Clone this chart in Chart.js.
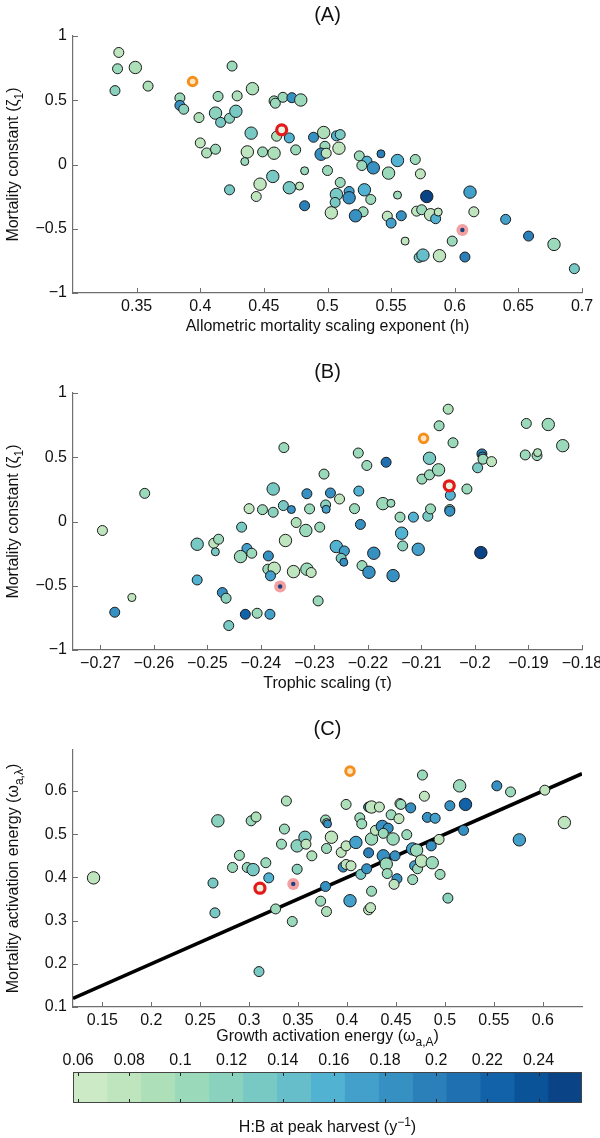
<!DOCTYPE html>
<html lang="en">
<head>
<meta charset="UTF-8">
<title>Mortality parameters</title>
<script src="https://cdn.jsdelivr.net/npm/chart.js"></script>
<style>
  body { margin: 0; background: #fff; }
  #wrap { width: 600px; height: 1138px; }
  canvas { display: block; }
</style>
</head>
<body>
<div id="wrap">
  <canvas id="chartA" width="600" height="345"></canvas>
  <canvas id="chartB" width="600" height="360"></canvas>
  <canvas id="chartC" width="600" height="345"></canvas>
  <canvas id="chartBar" width="600" height="88"></canvas>
</div>
<script>
// ---- panel A: allometric mortality exponent vs mortality constant
const aX = [0.336,0.335,0.349,0.333,0.359,0.384,0.384,0.387,0.399,0.414,
  0.425,0.429,0.441,0.412,0.416,0.423,0.428,0.458,0.459,0.465,
  0.472,0.479,0.44,0.46,0.47,0.489,0.497,0.507,0.51,0.4,
  0.405,0.412,0.437,0.435,0.449,0.458,0.475,0.498,0.495,0.499,
  0.509,0.525,0.531,0.527,0.536,0.542,0.555,0.548,0.569,0.573,
  0.482,0.5,0.457,0.447,0.423,0.444,0.47,0.478,0.51,0.482,
  0.503,0.507,0.506,0.517,0.517,0.529,0.534,0.528,0.522,0.547,
  0.555,0.558,0.55,0.561,0.578,0.57,0.574,0.581,0.585,0.587,
  0.572,0.575,0.588,0.598,0.608,0.612,0.615,0.64,0.658,0.678,
  0.694];
const aY = [0.872,0.745,0.755,0.575,0.61,0.518,0.46,0.43,0.365,0.53,
  0.766,0.534,0.59,0.40,0.328,0.36,0.414,0.495,0.477,0.523,
  0.52,0.502,0.244,0.22,0.207,0.212,0.249,0.223,0.233,0.168,
  0.09,0.119,0.098,0.023,0.098,0.088,0.114,0.142,0.08,0.088,
  0.127,0.067,0.026,-0.008,-0.026,0.083,0.031,-0.067,0.039,-0.073,
  -0.049,-0.047,-0.093,-0.153,-0.197,-0.249,-0.181,-0.168,-0.14,-0.321,
  -0.376,-0.233,-0.295,-0.21,-0.259,-0.197,-0.272,-0.368,-0.399,-0.402,
  -0.238,-0.399,-0.456,-0.596,-0.249,-0.363,-0.352,-0.391,-0.422,-0.37,
  -0.723,-0.705,-0.71,-0.596,-0.72,-0.215,-0.368,-0.427,-0.557,-0.622,
  -0.811];
const aHB = [0.075,0.11,0.085,0.115,0.085,0.1,0.19,0.115,0.085,0.1,
  0.1,0.085,0.085,0.12,0.13,0.12,0.13,0.1,0.1,0.1,
  0.185,0.1,0.13,0.09,0.155,0.185,0.085,0.16,0.13,0.08,
  0.085,0.1,0.08,0.11,0.105,0.085,0.1,0.1,0.19,0.08,
  0.08,0.1,0.16,0.1,0.19,0.2,0.16,0.1,0.1,0.08,
  0.1,0.1,0.13,0.075,0.13,0.075,0.13,0.08,0.1,0.2,
  0.075,0.13,0.13,0.165,0.19,0.16,0.1,0.1,0.19,0.08,
  0.1,0.19,0.165,0.075,0.25,0.08,0.1,0.08,0.16,0.075,
  0.13,0.14,0.08,0.11,0.2,0.165,0.08,0.165,0.2,0.1,
  0.13];
const aSize = [2,2,3,2,2,2,2,2,2,2,
  2,2,3,3,2,2,3,2,2,2,
  2,3,3,2,2,2,3,2,2,2,
  2,2,3,1,2,3,2,2,3,2,
  3,2,2,2,3,1,3,3,2,2,
  1,2,3,3,2,2,3,1,2,2,
  3,3,2,2,3,3,2,2,3,2,
  1,2,2,1,3,2,2,3,2,1,
  2,3,3,2,2,3,2,2,2,3,
  2];
// highlighted runs: orange, red, pink
const aMarkX = [0.394, 0.464, 0.606];
const aMarkY = [0.646, 0.27, -0.51];
const aTicksX = [0.35, 0.4, 0.45, 0.5, 0.55, 0.6, 0.65, 0.7];
const zetaTicks = [-1, -0.5, 0, 0.5, 1];

// ---- panel B: trophic scaling vs mortality constant
const bX = [-0.2617,-0.2357,-0.2422,-0.2397,-0.2377,-0.2377,-0.2358,-0.2343,-0.2314,-0.2309,
  -0.2282,-0.2279,-0.2278,-0.227,-0.2253,-0.2225,-0.2218,-0.2217,-0.2202,-0.2172,
  -0.2157,-0.2166,-0.214,-0.2115,-0.2088,-0.2099,-0.2085,-0.2068,-0.2085,-0.2067,
  -0.205,-0.2041,-0.2046,-0.2047,-0.2047,-0.2083,-0.2015,-0.1995,-0.1987,-0.1986,
  -0.1985,-0.1969,-0.1904,-0.1863,-0.1906,-0.1884,-0.1883,-0.1836,-0.2696,-0.2519,
  -0.2488,-0.2479,-0.2485,-0.2436,-0.2426,-0.2438,-0.2417,-0.2386,-0.2354,-0.2387,
  -0.2375,-0.2382,-0.2334,-0.2316,-0.229,-0.2339,-0.2314,-0.2306,-0.2293,-0.2519,
  -0.2472,-0.2465,-0.2641,-0.2673,-0.2429,-0.2407,-0.2383,-0.246,-0.2259,-0.2244,
  -0.225,-0.2245,-0.2211,-0.2198,-0.2189,-0.2214,-0.2153,-0.2137,-0.2135,-0.2106,
  -0.1989];
const bY = [0.219,0.575,0.1,0.092,0.072,0.253,0.124,0.093,0.216,0.098,
  0.369,0.129,0.095,0.222,0.175,0.1,0.533,0.237,0.436,0.139,
  0.142,0.461,0.034,0.034,0.041,0.33,0.363,0.402,0.492,0.745,
  0.874,0.613,0.204,0.093,0.08,0.098,0.253,0.418,0.526,0.51,
  0.485,0.466,0.763,0.755,0.518,0.513,0.536,0.59,-0.07,-0.177,
  -0.169,-0.138,-0.236,-0.044,-0.21,-0.273,-0.247,-0.268,-0.148,-0.371,
  -0.364,-0.423,-0.008,-0.07,-0.044,-0.39,-0.371,-0.397,-0.618,-0.455,
  -0.553,-0.597,-0.592,-0.706,-0.722,-0.714,-0.722,-0.81,-0.195,-0.229,
  -0.286,-0.317,-0.343,-0.395,-0.247,-0.023,-0.421,-0.091,-0.19,-0.216,
  -0.242];
const bHB = [0.1,0.11,0.075,0.1,0.12,0.13,0.13,0.19,0.19,0.1,
  0.1,0.12,0.165,0.19,0.08,0.1,0.1,0.16,0.1,0.1,
  0.1,0.21,0.1,0.16,0.13,0.1,0.1,0.1,0.13,0.1,
  0.085,0.1,0.16,0.12,0.19,0.1,0.1,0.13,0.2,0.19,
  0.1,0.08,0.1,0.1,0.1,0.1,0.085,0.1,0.08,0.13,
  0.08,0.1,0.13,0.13,0.165,0.1,0.1,0.19,0.075,0.1,
  0.08,0.165,0.085,0.11,0.1,0.08,0.1,0.08,0.1,0.16,
  0.19,0.12,0.08,0.19,0.22,0.1,0.165,0.13,0.16,0.165,
  0.13,0.19,0.1,0.19,0.19,0.19,0.19,0.16,0.12,0.165,
  0.25];
const bSize = [2,2,2,2,2,3,2,1,2,2,
  2,2,1,2,2,2,2,2,2,3,
  1,2,2,2,2,2,2,3,3,2,
  2,2,2,2,2,2,2,2,2,1,
  2,2,2,3,2,2,1,3,2,3,
  2,2,1,2,2,3,2,2,3,2,
  3,2,2,3,2,3,3,2,2,2,
  2,2,1,2,2,2,2,2,3,2,
  2,1,2,3,3,2,3,3,2,3,
  3];
const bMarkX = [-0.2096, -0.2048, -0.2364];
const bMarkY = [0.647, 0.278, -0.506];
const bTicksX = [-0.27, -0.26, -0.25, -0.24, -0.23, -0.22, -0.21, -0.2, -0.19, -0.18];

// ---- panel C: growth vs mortality activation energy
const cX = [0.141,0.268,0.263,0.265,0.283,0.29,0.298,0.304,0.302,0.307,
  0.317,0.32,0.327,0.344,0.338,0.336,0.333,0.349,0.349,0.357,
  0.358,0.364,0.378,0.379,0.38,0.384,0.379,0.378,0.373,0.379,
  0.399,0.394,0.399,0.396,0.399,0.404,0.403,0.409,0.413,0.415,
  0.414,0.42,0.422,0.425,0.425,0.422,0.424,0.422,0.425,0.433,
  0.429,0.436,0.442,0.437,0.437,0.44,0.441,0.447,0.449,0.451,
  0.448,0.445,0.453,0.454,0.455,0.465,0.461,0.467,0.471,0.469,
  0.472,0.476,0.467,0.477,0.479,0.482,0.49,0.487,0.486,0.494,
  0.495,0.503,0.505,0.515,0.519,0.521,0.553,0.567,0.576,0.602,
  0.622,0.31];
const cY = [0.399,0.531,0.387,0.318,0.423,0.451,0.423,0.418,0.531,0.54,
  0.434,0.399,0.327,0.298,0.577,0.512,0.477,0.419,0.473,0.493,
  0.477,0.45,0.533,0.527,0.524,0.493,0.467,0.379,0.345,0.321,
  0.569,0.458,0.473,0.424,0.43,0.427,0.346,0.481,0.538,0.524,
  0.407,0.42,0.457,0.489,0.368,0.325,0.33,0.563,0.563,0.563,
  0.509,0.518,0.514,0.502,0.45,0.431,0.409,0.489,0.45,0.397,
  0.384,0.545,0.536,0.571,0.569,0.561,0.499,0.466,0.463,0.427,
  0.42,0.438,0.395,0.637,0.588,0.539,0.537,0.434,0.473,0.488,
  0.407,0.352,0.566,0.612,0.509,0.569,0.612,0.598,0.487,0.602,
  0.527,0.182];
const cHB = [0.075,0.12,0.13,0.13,0.1,0.11,0.1,0.13,0.1,0.085,
  0.11,0.16,0.1,0.11,0.085,0.1,0.1,0.12,0.12,0.13,
  0.08,0.09,0.1,0.08,0.19,0.08,0.1,0.19,0.11,0.085,
  0.085,0.08,0.08,0.19,0.08,0.075,0.165,0.165,0.1,0.1,
  0.13,0.19,0.2,0.1,0.1,0.08,0.08,0.19,0.08,0.08,
  0.08,0.19,0.19,0.1,0.19,0.1,0.1,0.1,0.19,0.19,
  0.08,0.1,0.08,0.08,0.1,0.19,0.1,0.165,0.1,0.165,
  0.1,0.08,0.1,0.1,0.08,0.19,0.165,0.1,0.19,0.08,
  0.1,0.12,0.19,0.1,0.19,0.23,0.19,0.1,0.165,0.08,
  0.08,0.13];
const cSize = [3,3,2,2,2,2,2,3,2,2,
  2,2,2,2,2,2,2,2,3,3,
  2,2,2,1,1,3,2,2,2,2,
  2,2,2,2,2,2,3,3,2,2,
  2,2,2,3,2,2,2,2,3,2,
  2,3,2,2,3,3,2,3,2,2,
  2,2,2,2,2,2,2,3,3,2,
  2,3,2,2,2,2,2,3,2,2,
  2,2,2,3,2,3,2,2,3,2,
  3,2];
const cMarkX = [0.403, 0.311, 0.345];
const cMarkY = [0.646, 0.375, 0.385];
const lineX = [0.12, 0.64];   // 1:1 line
const lineY = [0.12, 0.64];
const cTicksX = [0.15, 0.2, 0.25, 0.3, 0.35, 0.4, 0.45, 0.5, 0.55, 0.6];
const cTicksY = [0.1, 0.2, 0.3, 0.4, 0.5, 0.6];

// ---- colour bar (H:B at peak harvest)
const bandEdges = [0.058,0.0713,0.0845,0.0978,0.1111,0.1243,0.1376,0.1509,0.1641,
  0.1774,0.1907,0.2039,0.2172,0.2305,0.2437,0.257];
const barTicks = [0.06, 0.08, 0.1, 0.12, 0.14, 0.16, 0.18, 0.2, 0.22, 0.24];

const bandColors = ['#cdeac6','#bfe5bf','#ade0b9','#9bd9bb','#8ad2be','#78c9c4','#66becb',
  '#52b2d2','#43a0cb','#3790c2','#2c80b9','#1f70b0','#1162a8','#0b5399','#0a4486'];

const FONT = '"Liberation Sans", Arial, Helvetica, sans-serif';
const TXT = '#111';
const AXIS = '#6f6f6f';
const radiusOf = { 1: 4, 2: 5, 3: 6.2 };

function hbColor(v) {
  for (let i = 0; i < bandColors.length; i++) {
    if (v < bandEdges[i + 1]) return bandColors[i];
  }
  return bandColors[bandColors.length - 1];
}

function pts(xs, ys) {
  return xs.map((x, i) => ({ x: x, y: ys[i] }));
}

function fmt(v) {
  return String(v).replace('-', '\u2212');
}

// text with sub/superscripts, centred on (x, y)
function drawRich(ctx, segs, x, y, rotate, size) {
  ctx.save();
  ctx.translate(x, y);
  if (rotate) ctx.rotate(-Math.PI / 2);
  ctx.fillStyle = TXT;
  ctx.textBaseline = 'middle';
  ctx.textAlign = 'left';
  const small = Math.round(size * 0.72);
  let total = 0;
  const widths = segs.map(s => {
    ctx.font = (s.sub || s.sup ? small : size) + 'px ' + FONT;
    const w = ctx.measureText(s.t).width;
    total += w;
    return w;
  });
  let cx = -total / 2;
  segs.forEach((s, i) => {
    ctx.font = (s.sub || s.sup ? small : size) + 'px ' + FONT;
    const dy = s.sub ? size * 0.38 : (s.sup ? -size * 0.36 : 0);
    ctx.fillText(s.t, cx, dy);
    cx += widths[i];
  });
  ctx.restore();
}

const panelText = {
  id: 'panelText',
  afterDraw(chart, args, o) {
    const ctx = chart.ctx;
    const a = chart.chartArea;
    const cx = (a.left + a.right) / 2;
    if (o.title) drawRich(ctx, [{ t: o.title }], cx, a.top - 21, false, 20);
    if (o.xTitle) drawRich(ctx, o.xTitle, cx, a.bottom + o.xDy, false, 16);
    if (o.yTitle) drawRich(ctx, o.yTitle, 14, (a.top + a.bottom) / 2, true, 16);
  }
};

// matlab style ticks pointing into the plot
const inTicks = {
  id: 'inTicks',
  afterDatasetsDraw(chart, args, o) {
    const ctx = chart.ctx;
    const a = chart.chartArea;
    const sx = chart.scales.x;
    ctx.save();
    ctx.strokeStyle = o.color;
    ctx.lineWidth = 1;
    ctx.beginPath();
    sx.ticks.forEach(t => {
      const p = Math.round(sx.getPixelForValue(t.value)) + 0.5;
      if (o.bottom) { ctx.moveTo(p, a.bottom); ctx.lineTo(p, a.bottom - o.len); }
      if (o.top) { ctx.moveTo(p, a.top); ctx.lineTo(p, a.top + o.len); }
    });
    if (o.left) {
      const sy = chart.scales.y;
      sy.ticks.forEach(t => {
        const p = Math.round(sy.getPixelForValue(t.value)) + 0.5;
        ctx.moveTo(a.left, p); ctx.lineTo(a.left + o.len, p);
      });
    }
    ctx.stroke();
    if (o.frame) {
      ctx.strokeStyle = o.frame;
      ctx.strokeRect(a.left + 0.5, a.top + 0.5, a.right - a.left - 1, a.bottom - a.top - 1);
    }
    ctx.restore();
  }
};

function tickFont() {
  return { family: FONT, size: 16 };
}

function markSets(mx, my) {
  return [
    { data: [{ x: mx[0], y: my[0] }], pointRadius: 4.3, pointBorderWidth: 3,
      pointBorderColor: '#f5901e', pointBackgroundColor: '#fde6c2', order: 0 },
    { data: [{ x: mx[1], y: my[1] }], pointRadius: 5, pointBorderWidth: 3.2,
      pointBorderColor: '#e3191c', pointBackgroundColor: '#e6f3dd', order: 0 },
    { data: [{ x: mx[2], y: my[2] }], pointRadius: 6, pointBorderWidth: 0,
      pointBorderColor: '#f2a0a0', pointBackgroundColor: '#f2a0a0', order: 0 },
    { data: [{ x: mx[2], y: my[2] }], pointRadius: 2.2, pointBorderWidth: 0,
      pointBorderColor: '#17407f', pointBackgroundColor: '#17407f', order: -1 }
  ];
}

function makePanel(id, p) {
  const datasets = [
    { data: pts(p.x, p.y),
      pointBackgroundColor: p.hb.map(hbColor),
      pointBorderColor: '#1a1a1a',
      pointBorderWidth: 1,
      pointRadius: p.size.map(s => radiusOf[s]),
      order: 1 }
  ].concat(markSets(p.mx, p.my));
  if (p.line) {
    datasets.push({ type: 'line', data: pts(p.line[0], p.line[1]), showLine: true,
      borderColor: '#000', borderWidth: 3.6, pointRadius: 0, order: 3 });
  }
  return new Chart(document.getElementById(id), {
    type: 'scatter',
    data: { datasets: datasets },
    options: {
      responsive: false,
      animation: false,
      devicePixelRatio: 1,
      events: [],
      layout: { padding: { top: p.padTop, right: 18, bottom: 0, left: 0 } },
      plugins: {
        legend: { display: false },
        tooltip: { enabled: false },
        panelText: { title: p.title, xTitle: p.xTitle, yTitle: p.yTitle, xDy: p.xDy },
        inTicks: { color: AXIS, len: 5, bottom: true, left: true }
      },
      scales: {
        x: {
          type: 'linear', min: p.xMin, max: p.xMax,
          grid: { display: false, drawTicks: false },
          border: { display: true, color: AXIS, width: 1.2 },
          ticks: { font: tickFont(), color: TXT, padding: 4, maxRotation: 0, autoSkip: false,
            callback: v => fmt(v) },
          afterBuildTicks: s => { s.ticks = p.ticksX.map(v => ({ value: v })); },
          afterFit: s => { s.height = p.xH; s.paddingLeft = 0; s.paddingRight = 0; }
        },
        y: {
          type: 'linear', min: p.yMin, max: p.yMax,
          grid: { display: false, drawTicks: false },
          border: { display: true, color: AXIS, width: 1.2 },
          ticks: { font: tickFont(), color: TXT, padding: 6,
            callback: v => fmt(v) },
          afterBuildTicks: s => { s.ticks = p.ticksY.map(v => ({ value: v })); },
          afterFit: s => { s.width = 73; s.paddingTop = 0; s.paddingBottom = 0; }
        }
      }
    },
    plugins: [panelText, inTicks]
  });
}

makePanel('chartA', {
  x: aX, y: aY, hb: aHB, size: aSize, mx: aMarkX, my: aMarkY,
  xMin: 0.3, xMax: 0.7, yMin: -1, yMax: 1, ticksX: aTicksX, ticksY: zetaTicks,
  padTop: 36, xH: 52, xDy: 34, title: '(A)',
  xTitle: [{ t: 'Allometric mortality scaling exponent (h)' }],
  yTitle: [{ t: 'Mortality constant (\u03B6' }, { t: '1', sub: true }, { t: ')' }]
});

makePanel('chartB', {
  x: bX, y: bY, hb: bHB, size: bSize, mx: bMarkX, my: bMarkY,
  xMin: -0.2751, xMax: -0.18, yMin: -1, yMax: 1, ticksX: bTicksX, ticksY: zetaTicks,
  padTop: 48, xH: 55, xDy: 34, title: '(B)',
  xTitle: [{ t: 'Trophic scaling (\u03C4)' }],
  yTitle: [{ t: 'Mortality constant (\u03B6' }, { t: '1', sub: true }, { t: ')' }]
});

makePanel('chartC', {
  x: cX, y: cY, hb: cHB, size: cSize, mx: cMarkX, my: cMarkY, line: [lineX, lineY],
  xMin: 0.12, xMax: 0.64, yMin: 0.1, yMax: 0.695, ticksX: cTicksX, ticksY: cTicksY,
  padTop: 45, xH: 43, xDy: 30, title: '(C)',
  xTitle: [{ t: 'Growth activation energy (\u03C9' }, { t: 'a,A', sub: true }, { t: ')' }],
  yTitle: [{ t: 'Mortality activation energy (\u03C9' }, { t: 'a,\u03BB', sub: true }, { t: ')' }]
});

// colour bar as floating horizontal bars on a linear H:B scale
const barSets = bandColors.map((c, i) => ({
  data: [[bandEdges[i], bandEdges[i + 1]]],
  backgroundColor: c,
  borderWidth: 0,
  barPercentage: 1,
  categoryPercentage: 1,
  grouped: false
}));

new Chart(document.getElementById('chartBar'), {
  type: 'bar',
  data: { labels: ['H:B'], datasets: barSets },
  options: {
    indexAxis: 'y',
    responsive: false,
    animation: false,
    devicePixelRatio: 1,
    events: [],
    layout: { padding: { top: 0, right: 18, bottom: 35, left: 73 } },
    plugins: {
      legend: { display: false },
      tooltip: { enabled: false },
      panelText: { xTitle: [{ t: 'H:B at peak harvest (y' }, { t: '\u22121', sup: true }, { t: ')' }], xDy: 25 },
      inTicks: { color: '#222', len: 4, bottom: true, top: true, frame: '#444' }
    },
    scales: {
      x: {
        type: 'linear', position: 'top', min: bandEdges[0], max: bandEdges[bandEdges.length - 1],
        grid: { display: false, drawTicks: false },
        border: { display: false },
        ticks: { font: tickFont(), color: TXT, padding: 2, maxRotation: 0, autoSkip: false,
          callback: v => fmt(v) },
        afterBuildTicks: s => { s.ticks = barTicks.map(v => ({ value: v })); },
        afterFit: s => { s.height = 22; s.paddingLeft = 0; s.paddingRight = 0; }
      },
      y: { display: false }
    }
  },
  plugins: [panelText, inTicks]
});
</script>
</body>
</html>
